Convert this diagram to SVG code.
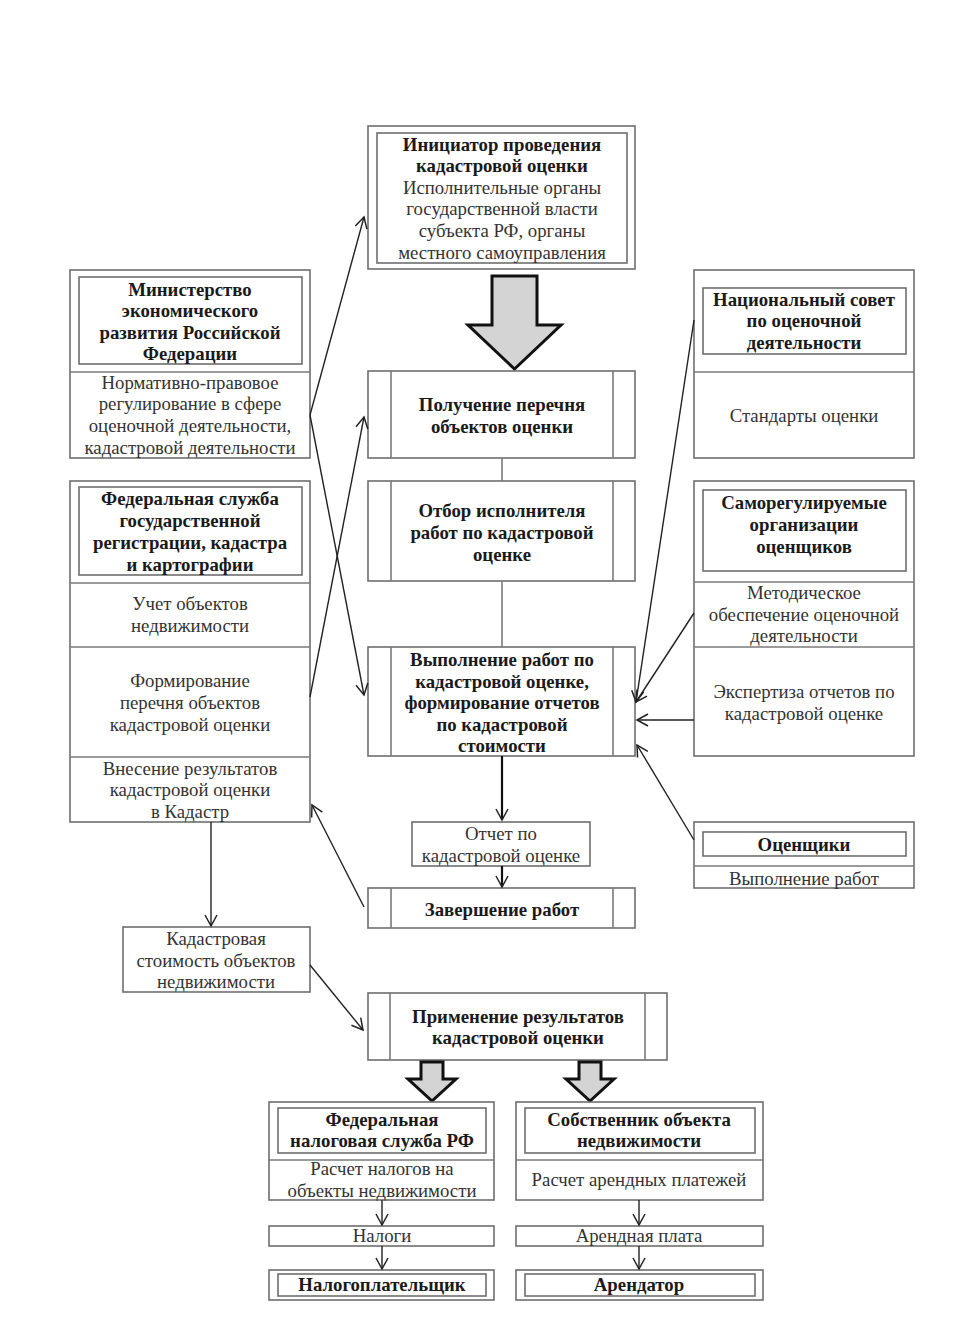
<svg xmlns="http://www.w3.org/2000/svg" width="974" height="1328" viewBox="0 0 974 1328">
<defs>
<style>
.box{fill:#fff;stroke:#6e6e6e;stroke-width:1.6}
.in{fill:none;stroke:#6e6e6e;stroke-width:1.6}
.ln{fill:none;stroke:#7a7a7a;stroke-width:1.6}
.b{font-family:"Liberation Serif",serif;font-weight:bold;font-size:18.8px;fill:#1a1a1a;text-anchor:middle}
.r{font-family:"Liberation Serif",serif;font-size:18.8px;fill:#333;text-anchor:middle}
.c{fill:none;stroke:#222;stroke-width:1.4}
.ct{fill:none;stroke:#111;stroke-width:2.2}
.big{fill:#d4d4d4;stroke:#111;stroke-width:3;stroke-linejoin:miter}
</style>
<marker id="ah" markerWidth="14" markerHeight="14" refX="12" refY="7" orient="auto" markerUnits="userSpaceOnUse">
<path d="M1,1 L12,7 L1,13" fill="none" stroke="#222" stroke-width="1.5"/>
</marker>
</defs>
<rect width="974" height="1328" fill="#fff"/>

<g id="initiator">
<rect class="box" x="368" y="126" width="267" height="143"/>
<rect class="in" x="377" y="133" width="250" height="130"/>
<text class="b" x="502" y="151">Инициатор проведения</text>
<text class="b" x="502" y="172">кадастровой оценки</text>
<text class="r" x="502" y="194">Исполнительные органы</text>
<text class="r" x="502" y="215">государственной власти</text>
<text class="r" x="502" y="237">субъекта РФ, органы</text>
<text class="r" x="502" y="259">местного самоуправления</text>
</g>

<g id="big-arrow">
<path class="big" d="M492,276 L537,276 L537,325 L561,325 L514.5,369 L468,325 L492,325 Z"/>
</g>

<g id="ministry">
<rect class="box" x="70" y="270" width="240" height="188"/>
<rect class="in" x="79" y="277" width="223" height="87"/>
<line class="ln" x1="70" y1="372" x2="310" y2="372"/>
<text class="b" x="190" y="296">Министерство</text>
<text class="b" x="190" y="317">экономического</text>
<text class="b" x="190" y="339">развития Российской</text>
<text class="b" x="190" y="360">Федерации</text>
<text class="r" x="190" y="389">Нормативно-правовое</text>
<text class="r" x="190" y="410">регулирование в сфере</text>
<text class="r" x="190" y="432">оценочной деятельности,</text>
<text class="r" x="190" y="454">кадастровой деятельности</text>
</g>

<g id="rosreestr">
<rect class="box" x="70" y="481" width="240" height="341"/>
<rect class="in" x="79" y="487" width="223" height="88"/>
<line class="ln" x1="70" y1="583" x2="310" y2="583"/>
<line class="ln" x1="70" y1="647" x2="310" y2="647"/>
<line class="ln" x1="70" y1="757" x2="310" y2="757"/>
<text class="b" x="190" y="505">Федеральная служба</text>
<text class="b" x="190" y="527">государственной</text>
<text class="b" x="190" y="549">регистрации, кадастра</text>
<text class="b" x="190" y="571">и картографии</text>
<text class="r" x="190" y="610">Учет объектов</text>
<text class="r" x="190" y="632">недвижимости</text>
<text class="r" x="190" y="687">Формирование</text>
<text class="r" x="190" y="709">перечня объектов</text>
<text class="r" x="190" y="731">кадастровой оценки</text>
<text class="r" x="190" y="775">Внесение результатов</text>
<text class="r" x="190" y="796">кадастровой оценки</text>
<text class="r" x="190" y="818">в Кадастр</text>
</g>

<g id="obtain-list">
<rect class="box" x="368" y="371" width="267" height="87"/>
<line class="ln" x1="391" y1="371" x2="391" y2="458"/>
<line class="ln" x1="613" y1="371" x2="613" y2="458"/>
<text class="b" x="502" y="411">Получение перечня</text>
<text class="b" x="502" y="433">объектов оценки</text>
</g>

<g id="select-contractor">
<rect class="box" x="368" y="481" width="267" height="100"/>
<line class="ln" x1="391" y1="481" x2="391" y2="581"/>
<line class="ln" x1="613" y1="481" x2="613" y2="581"/>
<text class="b" x="502" y="517">Отбор исполнителя</text>
<text class="b" x="502" y="539">работ по кадастровой</text>
<text class="b" x="502" y="561">оценке</text>
</g>

<g id="perform-works">
<rect class="box" x="368" y="647" width="267" height="109"/>
<line class="ln" x1="391" y1="647" x2="391" y2="756"/>
<line class="ln" x1="613" y1="647" x2="613" y2="756"/>
<text class="b" x="502" y="666">Выполнение работ по</text>
<text class="b" x="502" y="688">кадастровой оценке,</text>
<text class="b" x="502" y="709">формирование отчетов</text>
<text class="b" x="502" y="731">по кадастровой</text>
<text class="b" x="502" y="752">стоимости</text>
</g>

<g id="report">
<rect class="box" x="412" y="822" width="178" height="44"/>
<text class="r" x="501" y="840">Отчет по</text>
<text class="r" x="501" y="862">кадастровой оценке</text>
</g>

<g id="completion">
<rect class="box" x="368" y="888" width="267" height="40"/>
<line class="ln" x1="391" y1="888" x2="391" y2="928"/>
<line class="ln" x1="613" y1="888" x2="613" y2="928"/>
<text class="b" x="502" y="916">Завершение работ</text>
</g>

<g id="national-council">
<rect class="box" x="694" y="270" width="220" height="188"/>
<rect class="in" x="703" y="288" width="203" height="66"/>
<line class="ln" x1="694" y1="372" x2="914" y2="372"/>
<text class="b" x="804" y="306">Национальный совет</text>
<text class="b" x="804" y="327">по оценочной</text>
<text class="b" x="804" y="349">деятельности</text>
<text class="r" x="804" y="422">Стандарты оценки</text>
</g>

<g id="sro">
<rect class="box" x="694" y="481" width="220" height="275"/>
<rect class="in" x="703" y="490" width="203" height="81"/>
<line class="ln" x1="694" y1="582" x2="914" y2="582"/>
<line class="ln" x1="694" y1="647" x2="914" y2="647"/>
<text class="b" x="804" y="509">Саморегулируемые</text>
<text class="b" x="804" y="531">организации</text>
<text class="b" x="804" y="553">оценщиков</text>
<text class="r" x="804" y="599">Методическое</text>
<text class="r" x="804" y="621">обеспечение оценочной</text>
<text class="r" x="804" y="642">деятельности</text>
<text class="r" x="804" y="698">Экспертиза отчетов по</text>
<text class="r" x="804" y="720">кадастровой оценке</text>
</g>

<g id="appraisers">
<rect class="box" x="694" y="822" width="220" height="66"/>
<rect class="in" x="703" y="832" width="203" height="24"/>
<line class="ln" x1="694" y1="866" x2="914" y2="866"/>
<text class="b" x="804" y="851">Оценщики</text>
<text class="r" x="804" y="885">Выполнение работ</text>
</g>

<g id="cadastral-value">
<rect class="box" x="123" y="927" width="187" height="65"/>
<text class="r" x="216" y="945">Кадастровая</text>
<text class="r" x="216" y="967">стоимость объектов</text>
<text class="r" x="216" y="988">недвижимости</text>
</g>

<g id="application">
<rect class="box" x="368" y="993" width="299" height="67"/>
<line class="ln" x1="390" y1="993" x2="390" y2="1060"/>
<line class="ln" x1="645" y1="993" x2="645" y2="1060"/>
<text class="b" x="518" y="1023">Применение результатов</text>
<text class="b" x="518" y="1044">кадастровой оценки</text>
</g>

<g id="gray-arrows">
<path class="big" d="M421,1062 L443,1062 L443,1079 L456,1079 L432,1101 L408,1079 L421,1079 Z" stroke-width="2.5"/>
<path class="big" d="M579,1062 L601,1062 L601,1079 L614,1079 L590,1101 L566,1079 L579,1079 Z" stroke-width="2.5"/>
</g>

<g id="fns">
<rect class="box" x="269" y="1102" width="225" height="98"/>
<rect class="in" x="278" y="1108" width="208" height="45"/>
<line class="ln" x1="269" y1="1160" x2="494" y2="1160"/>
<text class="b" x="382" y="1126">Федеральная</text>
<text class="b" x="382" y="1147">налоговая служба РФ</text>
<text class="r" x="382" y="1175">Расчет налогов на</text>
<text class="r" x="382" y="1197">объекты недвижимости</text>
</g>

<g id="taxes">
<rect class="box" x="269" y="1226" width="225" height="20"/>
<text class="r" x="382" y="1242">Налоги</text>
</g>

<g id="taxpayer">
<rect class="box" x="269" y="1270" width="225" height="30"/>
<rect class="in" x="278" y="1274" width="208" height="22"/>
<text class="b" x="382" y="1291">Налогоплательщик</text>
</g>

<g id="owner">
<rect class="box" x="516" y="1102" width="247" height="98"/>
<rect class="in" x="525" y="1108" width="230" height="45"/>
<line class="ln" x1="516" y1="1160" x2="763" y2="1160"/>
<text class="b" x="639" y="1126">Собственник объекта</text>
<text class="b" x="639" y="1147">недвижимости</text>
<text class="r" x="639" y="1186">Расчет арендных платежей</text>
</g>

<g id="rent">
<rect class="box" x="516" y="1226" width="247" height="20"/>
<text class="r" x="639" y="1242">Арендная плата</text>
</g>

<g id="tenant">
<rect class="box" x="516" y="1270" width="247" height="30"/>
<rect class="in" x="525" y="1274" width="230" height="22"/>
<text class="b" x="639" y="1291">Арендатор</text>
</g>

<g id="connectors">
<line class="ln" x1="502" y1="458" x2="502" y2="481"/>
<line class="ln" x1="502" y1="581" x2="502" y2="647"/>
<line class="c" x1="310" y1="415" x2="364" y2="217" marker-end="url(#ah)"/>
<line class="c" x1="310" y1="415" x2="364" y2="695" marker-end="url(#ah)"/>
<line class="c" x1="310" y1="697" x2="364" y2="417" marker-end="url(#ah)"/>
<line class="c" x1="694" y1="320" x2="636" y2="702" marker-end="url(#ah)"/>
<line class="c" x1="694" y1="613" x2="636" y2="702" marker-end="url(#ah)"/>
<line class="c" x1="694" y1="720" x2="637" y2="720" marker-end="url(#ah)"/>
<line class="c" x1="694" y1="840" x2="637" y2="745" marker-end="url(#ah)"/>
<line class="ct" x1="502" y1="756" x2="502" y2="820" marker-end="url(#ah)"/>
<line class="ct" x1="502" y1="866" x2="502" y2="887" marker-end="url(#ah)"/>
<line class="c" x1="364" y1="907" x2="312" y2="805" marker-end="url(#ah)"/>
<line class="c" x1="211" y1="822" x2="211" y2="926" marker-end="url(#ah)"/>
<line class="c" x1="310" y1="965" x2="363" y2="1030" marker-end="url(#ah)"/>
<line class="c" x1="382" y1="1200" x2="382" y2="1225" marker-end="url(#ah)"/>
<line class="c" x1="382" y1="1246" x2="382" y2="1269" marker-end="url(#ah)"/>
<line class="c" x1="639" y1="1200" x2="639" y2="1225" marker-end="url(#ah)"/>
<line class="c" x1="639" y1="1246" x2="639" y2="1269" marker-end="url(#ah)"/>
</g>
</svg>
